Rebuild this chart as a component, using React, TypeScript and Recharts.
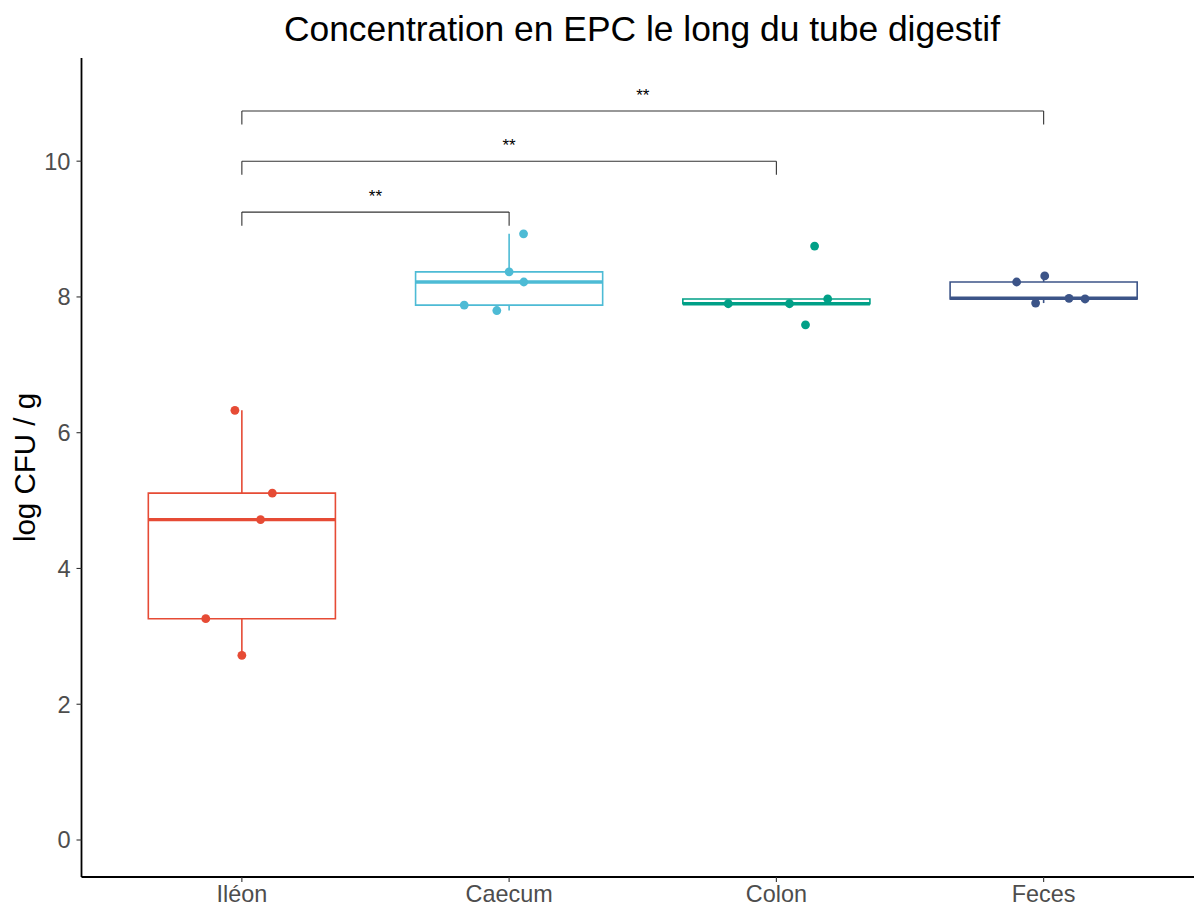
import React from "react";
import {
    ComposedChart, XAxis, YAxis, Scatter, ReferenceArea, ReferenceLine, Label
} from "recharts";

const FONT = '"Liberation Sans", Arial, Helvetica, sans-serif';

// groups, ggsci npg palette
const categories = ['Iléon', 'Caecum', 'Colon', 'Feces'];
const groupColors = ['#E64B35', '#4DBBD5', '#00A087', '#3C5488'];

// raw measurements (log CFU / g)
const ileonValues = [6.33, 5.11, 4.72, 3.26, 2.72];
const caecumValues = [8.93, 8.37, 8.22, 7.88, 7.80];
const colonValues = [8.75, 7.90, 7.90, 7.97, 7.59];
const fecesValues = [8.22, 8.31, 7.91, 7.98, 7.97];

// horizontal jitter (category units)
const ileonJitter = [-0.026, 0.114, 0.07, -0.135, 0];
const caecumJitter = [0.054, 0.0, 0.055, -0.168, -0.046];
const colonJitter = [0.143, -0.18, 0.049, 0.192, 0.109];
const fecesJitter = [-0.101, 0.004, -0.03, 0.095, 0.155];

// boxplot stats per group
const whiskerLow = [2.72, 7.80, 7.90, 7.91];
const q1 = [3.26, 7.88, 7.90, 7.97];
const median = [4.72, 8.22, 7.90, 7.98];
const q3 = [5.11, 8.37, 7.97, 8.22];
const whiskerHigh = [6.33, 8.93, 7.97, 8.31];

// significance brackets
const comparisons = [['Iléon', 'Caecum'], ['Iléon', 'Colon'], ['Iléon', 'Feces']];
const bracketLevels = [9.25, 10.0, 10.74];
const signifLabels = ['**', '**', '**'];

const yTicks = [0, 2, 4, 6, 8, 10];

const BOX_HALF = 0.35;
const TIP = 0.2;

const groups = [
    { values: ileonValues, jitter: ileonJitter },
    { values: caecumValues, jitter: caecumJitter },
    { values: colonValues, jitter: colonJitter },
    { values: fecesValues, jitter: fecesJitter },
];

const pos = (name: string) => categories.indexOf(name) + 1;

const pointData = groups.map((g, i) =>
    g.values.map((v, j) => ({ x: i + 1 + g.jitter[j], y: v }))
);

const starData = comparisons.map((c, i) => ({
    x: (pos(c[0]) + pos(c[1])) / 2,
    y: bracketLevels[i],
    label: signifLabels[i],
}));

function StarText(props: any) {
    return (
        <text x={props.cx} y={props.cy - 10} textAnchor="middle" fontSize={17} fill="#000" fontFamily={FONT}>
            {props.payload.label}
        </text>
    );
}

function YTitle(props: any) {
    const vb = props.viewBox;
    const cy = vb.y + vb.height / 2;
    return (
        <text transform={`translate(35, ${cy}) rotate(-90)`} textAnchor="middle" fontSize={29.5} fill="#000" fontFamily={FONT}>
            log CFU / g
        </text>
    );
}

export default function App() {
    return (
        <div style={{ position: 'absolute', left: 0, top: 0, width: 1194, height: 906, overflow: 'hidden', background: '#fff' }}>
            <div style={{
                position: 'absolute', left: 0, top: 12, width: 1284, textAlign: 'center',
                fontFamily: FONT, fontSize: 35.4, lineHeight: '35px', color: '#000'
            }}>
                Concentration en EPC le long du tube digestif
            </div>
            <ComposedChart
                width={1214}
                height={906}
                margin={{ top: 58, right: 10, bottom: 0, left: 0 }}
                style={{ fontFamily: FONT }}
            >
                <XAxis
                    type="number"
                    dataKey="x"
                    domain={[0.4, 4.6]}
                    ticks={[1, 2, 3, 4]}
                    tickFormatter={(v: number) => categories[v - 1]}
                    allowDataOverflow
                    height={29}
                    axisLine={{ stroke: '#000', strokeWidth: 1.8 }}
                    tickLine={{ stroke: '#333', strokeWidth: 1.1 }}
                    tickSize={5}
                    tickMargin={3}
                    tick={{ fill: '#4D4D4D', fontSize: 23.4, fontFamily: FONT }}
                />
                <YAxis
                    type="number"
                    dataKey="y"
                    domain={[-0.545, 11.52]}
                    ticks={yTicks}
                    allowDataOverflow
                    width={81.5}
                    axisLine={{ stroke: '#000', strokeWidth: 1.8 }}
                    tickLine={{ stroke: '#333', strokeWidth: 1.1 }}
                    tickSize={5}
                    tickMargin={6}
                    tick={{ fill: '#4D4D4D', fontSize: 23.6, fontFamily: FONT }}
                >
                    <Label content={YTitle} />
                </YAxis>

                {categories.map((c, i) => (
                    <ReferenceArea
                        key={`box-${c}`}
                        x1={i + 1 - BOX_HALF}
                        x2={i + 1 + BOX_HALF}
                        y1={q1[i]}
                        y2={q3[i]}
                        fill="none"
                        fillOpacity={0}
                        stroke={groupColors[i]}
                        strokeWidth={1.6}
                        strokeOpacity={1}
                    />
                ))}
                {categories.map((c, i) => (
                    <ReferenceLine
                        key={`wu-${c}`}
                        segment={[{ x: i + 1, y: q3[i] }, { x: i + 1, y: whiskerHigh[i] }]}
                        stroke={groupColors[i]}
                        strokeWidth={1.6}
                    />
                ))}
                {categories.map((c, i) => (
                    <ReferenceLine
                        key={`wl-${c}`}
                        segment={[{ x: i + 1, y: q1[i] }, { x: i + 1, y: whiskerLow[i] }]}
                        stroke={groupColors[i]}
                        strokeWidth={1.6}
                    />
                ))}
                {categories.map((c, i) => (
                    <ReferenceLine
                        key={`med-${c}`}
                        segment={[{ x: i + 1 - BOX_HALF, y: median[i] }, { x: i + 1 + BOX_HALF, y: median[i] }]}
                        stroke={groupColors[i]}
                        strokeWidth={3.4}
                    />
                ))}

                {comparisons.map((c, i) => (
                    <ReferenceLine
                        key={`br-${i}`}
                        segment={[{ x: pos(c[0]), y: bracketLevels[i] }, { x: pos(c[1]), y: bracketLevels[i] }]}
                        stroke="#333"
                        strokeWidth={1.1}
                    />
                ))}
                {comparisons.map((c, i) => (
                    <ReferenceLine
                        key={`bl-${i}`}
                        segment={[{ x: pos(c[0]), y: bracketLevels[i] }, { x: pos(c[0]), y: bracketLevels[i] - TIP }]}
                        stroke="#333"
                        strokeWidth={1.1}
                    />
                ))}
                {comparisons.map((c, i) => (
                    <ReferenceLine
                        key={`brr-${i}`}
                        segment={[{ x: pos(c[1]), y: bracketLevels[i] }, { x: pos(c[1]), y: bracketLevels[i] - TIP }]}
                        stroke="#333"
                        strokeWidth={1.1}
                    />
                ))}

                {pointData.map((d, i) => (
                    <Scatter
                        key={`pts-${i}`}
                        data={d}
                        dataKey="y"
                        fill={groupColors[i]}
                        isAnimationActive={false}
                        shape={(p: any) => <circle cx={p.cx} cy={p.cy} r={4.4} fill={groupColors[i]} />}
                    />
                ))}
                <Scatter
                    data={starData}
                    dataKey="y"
                    isAnimationActive={false}
                    shape={StarText}
                />
            </ComposedChart>
        </div>
    );
}
